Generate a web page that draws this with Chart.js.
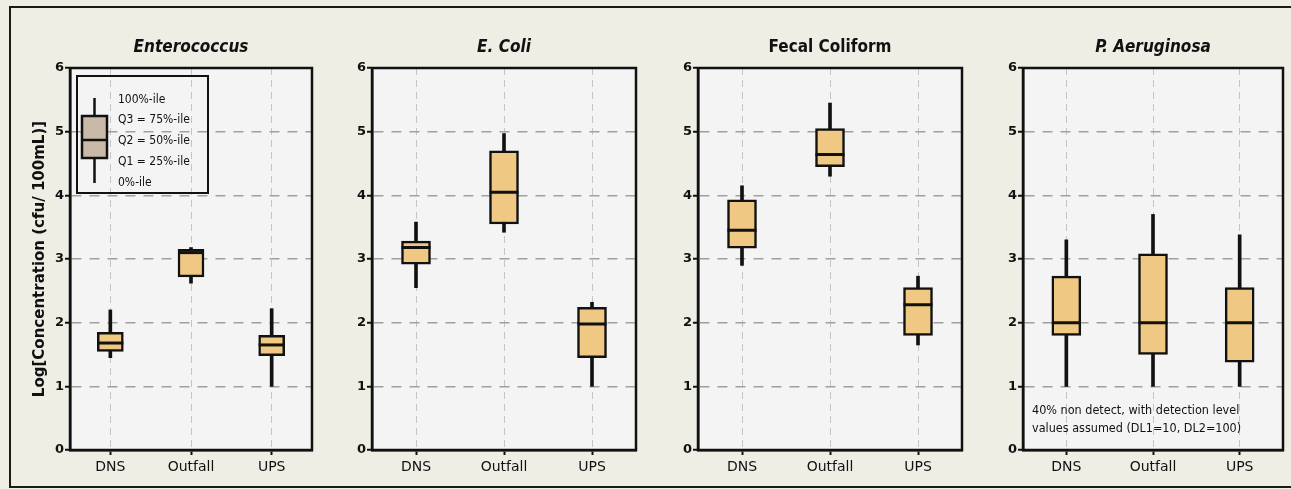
<!DOCTYPE html>
<html>
<head>
<meta charset="utf-8">
<script src="https://cdn.jsdelivr.net/npm/chart.js@4.4.1/dist/chart.umd.min.js"></script>
<style>
  body { margin: 0; background: #efeee5; width: 1291px; height: 489px; overflow: hidden; position: relative; }
  #frame { position: absolute; left: 9px; top: 6px; width: 1300px; height: 478px; border: 2px solid #1a1a1a; }
  .panel { position: absolute; top: 10px; height: 468px; }
</style>
</head>
<body>
<div id="frame"></div>
<div class="panel" id="p0"><canvas id="c0"></canvas></div>
<div class="panel" id="p1"><canvas id="c1"></canvas></div>
<div class="panel" id="p2"><canvas id="c2"></canvas></div>
<div class="panel" id="p3"><canvas id="c3"></canvas></div>
<script>
const categories = ['DNS', 'Outfall', 'UPS']
const panelTitles = ['Enterococcus', 'E. Coli', 'Fecal Coliform', 'P. Aeruginosa']
const yMin = 0
const yMax = 6

// min / Q1 / median / Q3 / max, log10 cfu per 100 mL
const enteroMin = [1.45, 2.62, 1.0]
const enteroQ1 = [1.55, 2.72, 1.48]
const enteroMed = [1.68, 3.1, 1.65]
const enteroQ3 = [1.85, 3.15, 1.8]
const enteroMax = [2.2, 3.18, 2.22]

const ecoliMin = [2.55, 3.42, 1.0]
const ecoliQ1 = [2.92, 3.55, 1.45]
const ecoliMed = [3.18, 4.05, 1.98]
const ecoliQ3 = [3.28, 4.7, 2.24]
const ecoliMax = [3.58, 4.97, 2.32]

const fecalMin = [2.9, 4.3, 1.65]
const fecalQ1 = [3.17, 4.45, 1.8]
const fecalMed = [3.45, 4.64, 2.28]
const fecalQ3 = [3.93, 5.05, 2.55]
const fecalMax = [4.15, 5.45, 2.73]

const aerMin = [1.0, 1.0, 1.0]
const aerQ1 = [1.8, 1.5, 1.38]
const aerMed = [2.0, 2.0, 2.0]
const aerQ3 = [2.73, 3.08, 2.55]
const aerMax = [3.3, 3.7, 3.38]

const legendLines = ['100%-ile', 'Q3 = 75%-ile', 'Q2 = 50%-ile', 'Q1 = 25%-ile', '0%-ile']
const noteLines = ['40% non detect, with detection level', 'values assumed (DL1=10, DL2=100)']

const boxFill = '#efc983'
const font = "'DejaVu Sans', sans-serif"
const condFont = "'DejaVu Sans Condensed', 'DejaVu Sans', sans-serif"

const series = [
  [enteroMin, enteroQ1, enteroMed, enteroQ3, enteroMax],
  [ecoliMin, ecoliQ1, ecoliMed, ecoliQ3, ecoliMax],
  [fecalMin, fecalQ1, fecalMed, fecalQ3, fecalMax],
  [aerMin, aerQ1, aerMed, aerQ3, aerMax],
]

// plot rectangles (left, right) in page pixels
const plotLeft = [70, 372, 698, 1023]
const plotRight = [312, 636, 962, 1283]
const boxWidth = [26, 29, 29, 29]

const pair = (a, b) => a.map((v, i) => [v, b[i]])

const frameAndBg = {
  id: 'frameAndBg',
  beforeDraw(chart) {
    const {ctx, chartArea: a} = chart
    ctx.save()
    ctx.fillStyle = '#f4f4f4'
    ctx.fillRect(a.left, a.top, a.right - a.left, a.bottom - a.top)
    ctx.restore()
  },
  afterDraw(chart) {
    const {ctx, chartArea: a} = chart
    ctx.save()
    ctx.strokeStyle = '#111'
    ctx.lineWidth = 2.5
    ctx.strokeRect(a.left, a.top, a.right - a.left, a.bottom - a.top)
    ctx.restore()
  }
}

const keyBox = {
  id: 'keyBox',
  afterDraw(chart) {
    const {ctx, chartArea: a} = chart
    const x = a.left, y = a.top
    ctx.save()
    ctx.strokeStyle = '#111'
    ctx.lineWidth = 2
    ctx.strokeRect(x + 7, y + 8, 131, 117)
    // schematic box
    ctx.lineWidth = 2.5
    ctx.beginPath()
    ctx.moveTo(x + 24.5, y + 30); ctx.lineTo(x + 24.5, y + 115)
    ctx.stroke()
    ctx.fillStyle = '#c8b9a9'
    ctx.fillRect(x + 12, y + 48, 25, 42)
    ctx.strokeRect(x + 12, y + 48, 25, 42)
    ctx.beginPath()
    ctx.moveTo(x + 12, y + 72); ctx.lineTo(x + 37, y + 72)
    ctx.stroke()
    ctx.fillStyle = '#111'
    ctx.font = '12px ' + condFont
    ctx.textBaseline = 'middle'
    const ys = [32, 52, 73, 94, 115]
    legendLines.forEach((t, i) => ctx.fillText(t, x + 48, y + ys[i]))
    ctx.restore()
  }
}

const note = {
  id: 'note',
  afterDraw(chart) {
    const {ctx, chartArea: a} = chart
    ctx.save()
    ctx.fillStyle = '#111'
    ctx.font = '12.5px ' + condFont
    ctx.textBaseline = 'middle'
    ctx.fillText(noteLines[0], a.left + 9, a.bottom - 39)
    ctx.fillText(noteLines[1], a.left + 9, a.bottom - 21)
    ctx.restore()
  }
}

function makePanel(i) {
  const [mn, q1, med, q3, mx] = series[i]
  const yWidth = i === 0 ? 56 : 30
  const left = plotLeft[i] - yWidth
  const box = document.getElementById('p' + i)
  box.style.left = left + 'px'
  box.style.width = (plotRight[i] + 4 - left) + 'px'

  const plugins = [frameAndBg]
  if (i === 0) plugins.push(keyBox)
  if (i === 3) plugins.push(note)

  return new Chart(document.getElementById('c' + i), {
    type: 'bar',
    data: {
      labels: categories,
      datasets: [
        {
          type: 'line',
          data: med,
          showLine: false,
          pointStyle: 'line',
          pointRadius: boxWidth[i] / 2,
          pointBorderWidth: 3,
          borderColor: '#111',
          order: 0,
        },
        {
          data: pair(q1, q3),
          backgroundColor: boxFill,
          borderColor: '#111',
          borderWidth: 2.5,
          borderSkipped: false,
          barThickness: boxWidth[i],
          grouped: false,
          order: 1,
        },
        {
          data: pair(mn, mx),
          backgroundColor: '#111',
          borderWidth: 0,
          barThickness: 3,
          grouped: false,
          order: 2,
        },
      ]
    },
    options: {
      responsive: true,
      maintainAspectRatio: false,
      animation: false,
      layout: { padding: { right: 4 }, autoPadding: false },
      plugins: {
        legend: { display: false },
        tooltip: { enabled: false },
        title: {
          display: true,
          text: panelTitles[i],
          fullSize: false,
          color: '#111',
          font: { family: condFont, size: 17, weight: 'bold', style: i === 2 ? 'normal' : 'italic' },
          padding: { top: 27.8, bottom: 9.8 },
        }
      },
      scales: {
        x: {
          afterFit: s => { s.height = 28; s.paddingLeft = 0; s.paddingRight = 0 },
          grid: {
            offset: false,
            color: '#c4c4c4',
            lineWidth: 1,
            tickColor: '#111',
            tickLength: 5,
            tickWidth: 2,
            tickBorderDash: [],
          },
          border: { display: true, color: '#111', width: 2.5, dash: [7, 5] },
          ticks: { color: '#111', padding: 4, font: { family: font, size: 14 } },
        },
        y: {
          min: yMin,
          max: yMax,
          afterFit: s => { s.width = yWidth },
          grid: {
            color: c => (c.tick.value === yMin || c.tick.value === yMax) ? 'rgba(0,0,0,0)' : '#a0a0a0',
            lineWidth: 1.5,
            tickColor: '#111',
            tickLength: 5,
            tickWidth: 2,
            tickBorderDash: [],
          },
          border: { display: true, color: '#111', width: 2.5, dash: [10, 8] },
          ticks: { stepSize: 1, color: '#111', padding: 1, font: { family: font, size: 13, weight: 'bold' } },
          title: {
            display: i === 0,
            text: 'Log[Concentration (cfu/ 100mL)]',
            color: '#111',
            font: { family: font, size: 15, weight: 'bold' },
            padding: { top: 17, bottom: 0 },
          }
        }
      }
    },
    plugins
  })
}

for (let i = 0; i < 4; i++) makePanel(i)
</script>
</body>
</html>
